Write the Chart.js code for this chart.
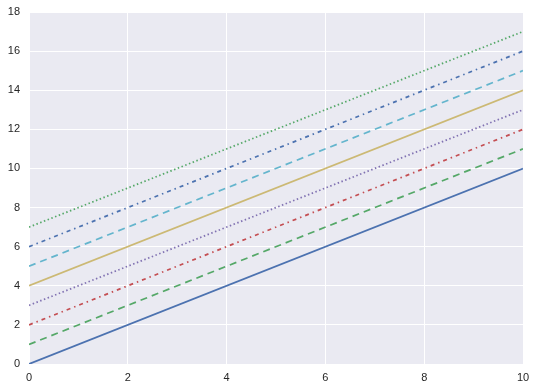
<!DOCTYPE html>
<html>
<head>
<meta charset="utf-8">
<script src="https://cdn.jsdelivr.net/npm/chart.js@4"></script>
<style>
  html, body { margin: 0; padding: 0; background: #ffffff; }
  #wrap { width: 538px; height: 390px; }
</style>
</head>
<body>
<div id="wrap"><canvas id="lineStyles"></canvas></div>
<script>
// x positions of the line ends
const xValues = [0, 10];

// y values of each line at x = 0 and x = 10
const solidBlue = [0, 10];
const dashedGreen = [1, 11];
const dashdotRed = [2, 12];
const dottedPurple = [3, 13];
const solidYellow = [4, 14];
const dashedCyan = [5, 15];
const dashdotBlue = [6, 16];
const dottedGreen = [7, 17];

const xTicks = [0, 2, 4, 6, 8, 10];
const yTicks = [0, 2, 4, 6, 8, 10, 12, 14, 16, 18];

// estilos de línea (matplotlib: '-', '--', '-.', ':')
const dashStyles = {
    solid: [],
    dashed: [7, 5],
    dashdot: [4, 4, 1.5, 4],
    dotted: [1.5, 2.5]
};

function serie(values, color, style) {
    return {
        data: values.map((v, i) => ({ x: xValues[i], y: v })),
        borderColor: color,
        borderWidth: 1.75,
        borderDash: dashStyles[style],
        pointRadius: 0,
        fill: false,
        tension: 0
    };
}

// fondo gris azulado del área del gráfico (estilo darkgrid)
const plotBackground = {
    id: 'plotBackground',
    beforeDraw(chart) {
        const { ctx, chartArea } = chart;
        ctx.save();
        ctx.fillStyle = '#EAEAF2';
        ctx.fillRect(chartArea.left, chartArea.top, chartArea.right - chartArea.left, chartArea.bottom - chartArea.top);
        ctx.restore();
    }
};

const ctx = document.getElementById('lineStyles').getContext('2d');

const chart = new Chart(ctx, {
    type: 'line',
    data: {
        datasets: [
            serie(solidBlue, '#4C72B0', 'solid'),
            serie(dashedGreen, '#55A868', 'dashed'),
            serie(dashdotRed, '#C44E52', 'dashdot'),
            serie(dottedPurple, '#8172B2', 'dotted'),
            serie(solidYellow, '#CCB974', 'solid'),
            serie(dashedCyan, '#64B5CD', 'dashed'),
            serie(dashdotBlue, '#4C72B0', 'dashdot'),
            serie(dottedGreen, '#55A868', 'dotted')
        ]
    },
    options: {
        responsive: true,
        maintainAspectRatio: false,
        animation: false,
        layout: { padding: { top: 12, right: 15, left: 0, bottom: 0 } },
        plugins: {
            legend: { display: false },
            tooltip: { enabled: false }
        },
        scales: {
            x: {
                type: 'linear',
                min: 0,
                max: 10,
                afterBuildTicks: axis => { axis.ticks = xTicks.map(v => ({ value: v })); },
                afterFit: axis => { axis.height = 26; axis.paddingLeft = 0; axis.paddingRight = 0; },
                border: { display: false },
                grid: { color: '#ffffff', lineWidth: 1, drawTicks: false },
                ticks: {
                    padding: 7,
                    color: '#262626',
                    font: { family: 'Liberation Sans, Arial, sans-serif', size: 11 }
                }
            },
            y: {
                type: 'linear',
                min: 0,
                max: 18,
                afterBuildTicks: axis => { axis.ticks = yTicks.map(v => ({ value: v })); },
                afterFit: axis => { axis.width = 29; axis.paddingTop = 0; axis.paddingBottom = 0; },
                border: { display: false },
                grid: { color: '#ffffff', lineWidth: 1, drawTicks: false },
                ticks: {
                    padding: 9,
                    color: '#262626',
                    font: { family: 'Liberation Sans, Arial, sans-serif', size: 11 }
                }
            }
        }
    },
    plugins: [plotBackground]
});
</script>
</body>
</html>
